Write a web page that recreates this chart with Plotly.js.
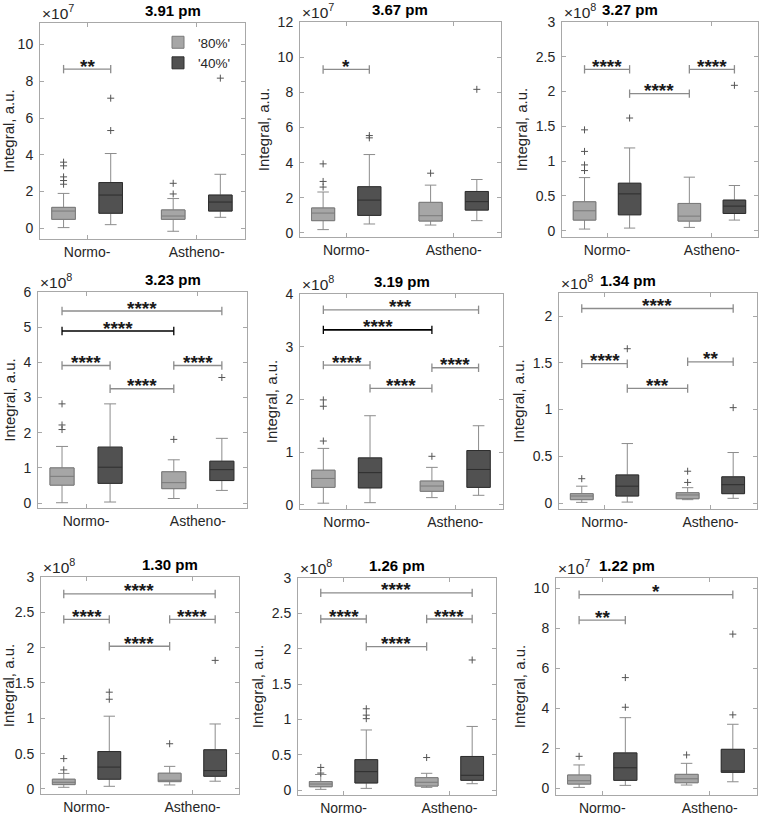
<!DOCTYPE html>
<html><head><meta charset="utf-8">
<script src="https://cdn.plot.ly/plotly-3.0.1.min.js"></script>
<style>html,body{margin:0;padding:0;background:#fff}#chart{width:762px;height:816px}</style>
</head><body><div id="chart"></div>
<script>
// ================= DATA =================
const categories = ['Normo-', 'Astheno-'];
const seriesNames = ["'80%'", "'40%'"];
const panelTitles = ['3.91 pm', '3.67 pm', '3.27 pm', '3.23 pm', '3.19 pm', '1.34 pm', '1.30 pm', '1.26 pm', '1.22 pm'];
const exponents = [7, 7, 8, 8, 8, 8, 8, 8, 7];
// per panel, boxes in order: [Normo 80%, Normo 40%, Astheno 80%, Astheno 40%]
const lowerWhisker = [
  [0.04, 0.2, -0.16, 0.6],
  [0.19, 0.51, 0.45, 0.70],
  [0.024, 0.038, 0.048, 0.153],
  [0.01, 0.03, 0.13, 0.36],
  [0.03, 0.04, 0.136, 0.18],
  [0.007, 0.01, 0.036, 0.05],
  [0.024, 0.038, 0.057, 0.11],
  [0.01, 0.024, 0.038, 0.09],
  [0.05, 0.15, 0.167, 0.33]
];
const q1 = [
  [0.49, 0.82, 0.49, 0.94],
  [0.70, 1.0, 0.68, 1.30],
  [0.153, 0.229, 0.139, 0.248],
  [0.51, 0.56, 0.41, 0.64],
  [0.33, 0.32, 0.256, 0.33],
  [0.036, 0.075, 0.046, 0.10],
  [0.062, 0.138, 0.104, 0.18],
  [0.047, 0.10, 0.057, 0.138],
  [0.217, 0.40, 0.283, 0.80]
];
const median = [
  [0.94, 1.81, 0.67, 1.43],
  [1.13, 1.87, 0.98, 1.78],
  [0.287, 0.53, 0.21, 0.354],
  [0.76, 1.02, 0.58, 0.95],
  [0.50, 0.61, 0.356, 0.67],
  [0.075, 0.18, 0.086, 0.196],
  [0.095, 0.31, 0.123, 0.26],
  [0.085, 0.26, 0.11, 0.209],
  [0.383, 1.03, 0.48, 0.87]
];
const q3 = [
  [1.14, 2.49, 1.0, 1.81],
  [1.42, 2.63, 1.74, 2.36],
  [0.416, 0.683, 0.392, 0.44],
  [1.0, 1.59, 0.89, 1.19],
  [0.656, 0.89, 0.45, 1.03],
  [0.10, 0.30, 0.11, 0.28],
  [0.138, 0.53, 0.223, 0.555],
  [0.12, 0.43, 0.175, 0.475],
  [0.667, 1.77, 0.70, 1.95]
];
const upperWhisker = [
  [1.9, 4.07, 1.62, 2.94],
  [2.33, 4.46, 2.72, 3.04],
  [0.764, 1.19, 0.77, 0.65],
  [1.61, 2.82, 1.23, 1.84],
  [1.07, 1.69, 0.71, 1.50],
  [0.18, 0.636, 0.164, 0.54],
  [0.22, 1.03, 0.32, 0.92],
  [0.22, 0.85, 0.237, 0.90],
  [1.17, 3.53, 1.25, 3.2]
];
const outliers = [
  [[3.6, 3.4, 2.8, 2.6, 2.4], [5.32, 7.08], [2.45, 1.87], [8.17]],
  [[3.93, 2.93, 2.61], [5.54, 5.41], [3.40], [8.17]],
  [[1.45, 1.14, 0.946, 0.865], [1.62], [], [2.09]],
  [[2.82, 2.22, 2.09], [], [1.81], [3.57]],
  [[1.99, 1.87, 1.21], [], [0.92], []],
  [[0.26], [1.65], [0.34, 0.22], [1.02]],
  [[0.43, 0.27], [1.37, 1.27], [0.64], [1.82]],
  [[0.32, 0.24], [1.15, 1.06, 1.01], [0.46], [1.84]],
  [[1.6], [4.05, 5.53], [1.67], [7.7, 3.67]]
];
// significance bars: [from box, to box, height, label]
const sigBars = [
  [[0, 1, 8.66, '**']],
  [[0, 1, 9.30, '*']],
  [[0, 1, 2.32, '****'], [1, 2, 1.97, '****'], [2, 3, 2.32, '****']],
  [[0, 1, 3.91, '****'], [1, 2, 3.25, '****'], [2, 3, 3.91, '****'], [0, 2, 4.89, '****'], [0, 3, 5.46, '****']],
  [[0, 1, 2.65, '****'], [1, 2, 2.21, '****'], [2, 3, 2.60, '****'], [0, 2, 3.32, '****'], [0, 3, 3.70, '***']],
  [[0, 1, 1.49, '****'], [1, 2, 1.225, '***'], [2, 3, 1.51, '**'], [0, 3, 2.08, '****']],
  [[0, 1, 2.40, '****'], [1, 2, 2.02, '****'], [2, 3, 2.40, '****'], [0, 3, 2.76, '****']],
  [[0, 1, 2.42, '****'], [1, 2, 2.03, '****'], [2, 3, 2.42, '****'], [0, 3, 2.79, '****']],
  [[0, 1, 8.4, '**'], [0, 3, 9.67, '*']]
];

// ================= LAYOUT / STYLE =================
const W = 762, H = 816;
const FONT = 'Liberation Sans, Arial, sans-serif';
const rects = [[40,245,23,239],[300,501,22,237],[562,758,22,237],[38,247,292,508],[300,503,294,509],[559,757,293,509],[41,239,577,794],[298,496,578,795],[556,757,578,795]];
const yRanges = [[-0.58,11.17],[-0.23,12],[-0.09,3],[-0.14,6],[-0.08,4],[-0.064,2.246],[-0.071,3],[-0.07,3],[-0.33,10.5]];
const yDticks = [2,2,0.5,1,1,0.5,0.5,0.5,2];
const xRange = [0.57, 2.44];
const OFF = 0.215, BW = 0.215;
const emphasised = {'3-3': true, '4-3': true}; // black bars
const fills = ['#a6a6a6', '#515151'];
const edges = ['#7a7a7a', '#2e2e2e'];
const boxPos = i => (i < 2 ? 1 : 2) + (i % 2 === 0 ? -OFF : OFF);

const traces = [];
const annotations = [];
const layout = {
  width: W, height: H, margin: {l: 0, r: 0, t: 0, b: 0},
  paper_bgcolor: '#fff', plot_bgcolor: '#fff',
  font: {family: FONT, color: '#262626', size: 14},
  boxmode: 'overlay', showlegend: true,
  legend: {x: 158 / W, y: 1 - 27 / H, xanchor: 'left', yanchor: 'top', bgcolor: 'rgba(0,0,0,0)',
           font: {size: 13.5, family: FONT, color: '#262626'}, itemwidth: 30, tracegroupgap: 0},
  annotations: annotations
};

for (let p = 0; p < 9; p++) {
  const sfx = p === 0 ? '' : String(p + 1);
  const xa = 'x' + sfx, ya = 'y' + sfx;
  const [l, r, t, b] = rects[p];
  const axCommon = {showline: true, linecolor: '#a8a8a8', linewidth: 1, mirror: 'ticks', ticks: 'inside',
    ticklen: 4, tickcolor: '#a8a8a8', showgrid: false, zeroline: false, fixedrange: true,
    tickfont: {size: 14, family: FONT, color: '#262626'}};
  layout['xaxis' + sfx] = Object.assign({}, axCommon, {domain: [l / W, r / W], range: xRange,
    tickvals: [1, 2], ticktext: categories, anchor: ya});
  layout['yaxis' + sfx] = Object.assign({}, axCommon, {domain: [1 - b / H, 1 - t / H], range: yRanges[p],
    dtick: yDticks[p], tick0: 0, anchor: xa, ticklabelstandoff: 3,
    title: {text: 'Integral, a.u.', font: {size: 15, family: FONT, color: '#262626'}, standoff: 4}});

  for (let g = 0; g < 2; g++) {
    const idx = [g, 2 + g];
    const xs = idx.map(boxPos);
    // whiskers
    traces.push({type: 'box', xaxis: xa, yaxis: ya, x: xs,
      q1: idx.map(i => q1[p][i]), median: idx.map(i => median[p][i]), q3: idx.map(i => q3[p][i]),
      lowerfence: idx.map(i => lowerWhisker[p][i]), upperfence: idx.map(i => upperWhisker[p][i]),
      width: BW, whiskerwidth: 0.5, line: {color: '#8c8c8c', width: 1}, fillcolor: 'rgba(0,0,0,0)',
      boxpoints: false, showlegend: false, hoverinfo: 'skip'});
    // box body
    traces.push({type: 'box', xaxis: xa, yaxis: ya, x: xs, name: seriesNames[g], legendgroup: 'g' + g,
      q1: idx.map(i => q1[p][i]), median: idx.map(i => median[p][i]), q3: idx.map(i => q3[p][i]),
      lowerfence: idx.map(i => q1[p][i]), upperfence: idx.map(i => q3[p][i]),
      width: BW, whiskerwidth: 0, line: {color: edges[g], width: 1}, fillcolor: fills[g],
      boxpoints: false, showlegend: p === 0, hoverinfo: 'skip'});
    // outliers
    const ox = [], oy = [];
    idx.forEach(i => outliers[p][i].forEach(v => { ox.push(boxPos(i)); oy.push(v); }));
    traces.push({type: 'scatter', mode: 'markers', xaxis: xa, yaxis: ya, x: ox, y: oy,
      marker: {symbol: 'cross-thin-open', size: 5, color: '#555555', line: {width: 1, color: '#555555'}},
      showlegend: false, hoverinfo: 'skip'});
  }
  sigBars[p].forEach((s, k) => {
    const [a, c, yv, lab] = s;
    const black = emphasised[p + '-' + k];
    const col = black ? '#000000' : '#8c8c8c';
    traces.push({type: 'scatter', mode: 'lines+markers', xaxis: xa, yaxis: ya,
      x: [boxPos(a), boxPos(c)], y: [yv, yv],
      line: {color: col, width: black ? 1.6 : 1.3},
      marker: {symbol: 'line-ns-open', size: 6, color: col, line: {color: col, width: 1.3}},
      showlegend: false, hoverinfo: 'skip'});
    annotations.push({xref: xa, yref: ya, x: (boxPos(a) + boxPos(c)) / 2, y: yv, text: '<b>' + lab + '</b>',
      showarrow: false, yanchor: 'middle', yshift: 3, font: {size: 19, family: FONT, color: '#1a1a1a'}});
  });
  annotations.push({xref: 'paper', yref: 'paper', x: (l + r) / 2 / W, y: 1 - t / H, yanchor: 'bottom',
    yshift: 2, showarrow: false, text: '<b>' + panelTitles[p] + '</b>',
    font: {size: 15, family: FONT, color: '#000000'}});
  annotations.push({xref: 'paper', yref: 'paper', x: l / W, y: 1 - t / H, xanchor: 'left', yanchor: 'bottom',
    xshift: 0, yshift: -1, showarrow: false, text: '×10<sup>' + exponents[p] + '</sup>',
    font: {size: 15.5, family: FONT, color: '#262626'}});
}

Plotly.newPlot('chart', traces, layout, {staticPlot: true});
</script>
</body></html>
